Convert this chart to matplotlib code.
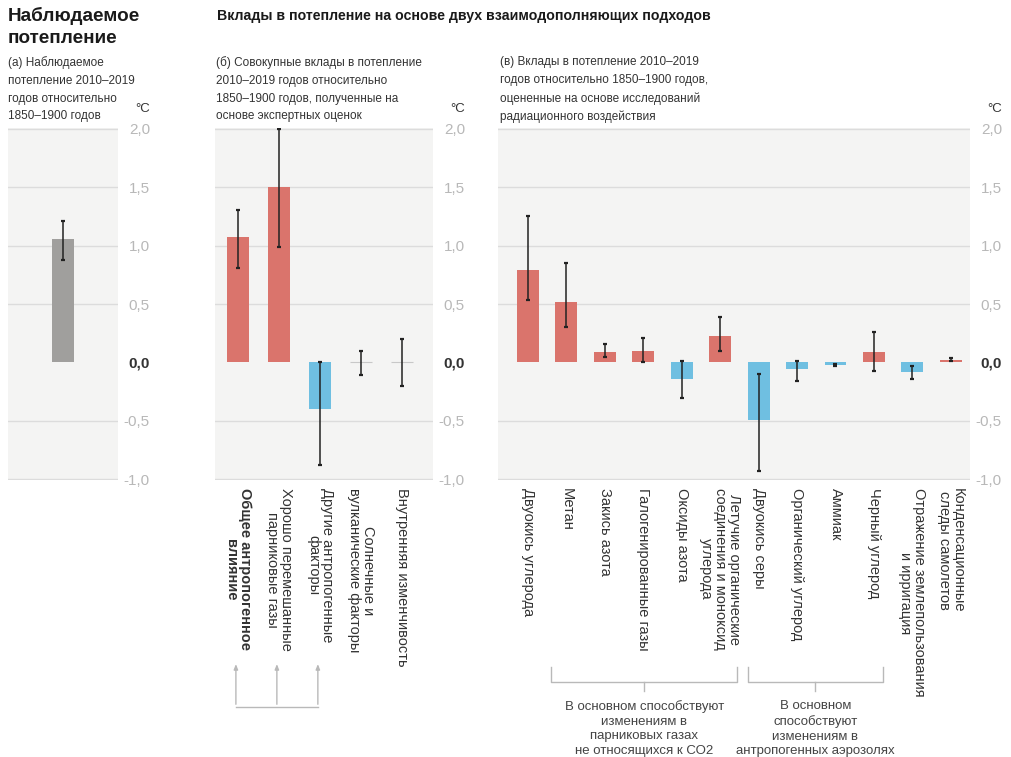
import numpy as np
import matplotlib
matplotlib.use("Agg")
import matplotlib.pyplot as plt
import matplotlib.transforms as mtransforms
from matplotlib.lines import Line2D

plt.rcParams['font.family'] = ['Liberation Sans', 'DejaVu Sans']

W, H = 1012, 757

# ---- данные ----
obs_value = [1.06]
obs_low = [0.88]
obs_high = [1.21]

b_labels = ["Общее антропогенное\nвлияние",
            "Хорошо перемешанные\nпарниковые газы",
            "Другие антропогенные\nфакторы",
            "Солнечные и\nвулканические факторы",
            "Внутренняя изменчивость"]
b_values = [1.07, 1.50, -0.40, 0.0, 0.0]
b_low = [0.81, 0.99, -0.88, -0.11, -0.20]
b_high = [1.30, 2.00, 0.00, 0.10, 0.20]

c_labels = ["Двуокись углерода",
            "Метан",
            "Закись азота",
            "Галогенированные газы",
            "Оксиды азота",
            "Летучие органические\nсоединения и моноксид\nуглерода",
            "Двуокись серы",
            "Органический углерод",
            "Аммиак",
            "Черный углерод",
            "Отражение землепользования\nи ирригация",
            "Конденсационные\nследы самолетов"]
c_values = [0.79, 0.52, 0.09, 0.10, -0.14, 0.23, -0.49, -0.06, -0.02, 0.09, -0.08, 0.02]
c_low = [0.53, 0.30, 0.05, 0.00, -0.30, 0.10, -0.93, -0.16, -0.03, -0.07, -0.14, 0.01]
c_high = [1.25, 0.85, 0.16, 0.21, 0.01, 0.39, -0.10, 0.01, -0.01, 0.26, -0.03, 0.035]

yticks = [-1.0, -0.5, 0.0, 0.5, 1.0, 1.5, 2.0]

RED = '#da746c'
BLUE = '#6fbfe1'
GRAY = '#a09f9d'
BG = '#f4f4f3'
GRID = '#dcdcdc'


def px_axes(x0, x1, y0=128, y1=480):
    return [x0 / W, 1 - y1 / H, (x1 - x0) / W, (y1 - y0) / H]


def bar_colors(vals):
    out = []
    for v in vals:
        if v > 0:
            out.append(RED)
        elif v < 0:
            out.append(BLUE)
        else:
            out.append('none')
    return out


def style_axes(ax, xlim):
    ax.set_facecolor(BG)
    ax.set_xlim(*xlim)
    ax.set_ylim(-1.005, 2.005)
    for s in ax.spines.values():
        s.set_visible(False)
    for y in yticks:
        if y != 0:
            ax.axhline(y, color=GRID, lw=1, zorder=0)
    ax.yaxis.tick_right()
    ax.set_yticks(yticks)
    ax.set_yticklabels([("%.1f" % y).replace('.', ',') for y in yticks])
    ax.tick_params(axis='y', length=0, pad=23, labelsize=11, labelcolor='#b8b8b8')
    for lab, y in zip(ax.get_yticklabels(), yticks):
        lab.set_horizontalalignment('right')
        if y == 0:
            lab.set_color('#333333')
            lab.set_fontweight('bold')
    ax.annotate('°C', xy=(1, 1), xycoords='axes fraction', xytext=(23, 9),
                textcoords='offset points', ha='right', va='bottom',
                fontsize=9.5, color='#333333')


def draw_bars(ax, vals, low, high, width, colors=None):
    x = np.arange(len(vals))
    if colors is None:
        colors = bar_colors(vals)
    ax.bar(x, vals, width=width, color=colors,
           edgecolor=['#c8c8c8' if v == 0 else 'none' for v in vals],
           linewidth=0.8, zorder=2)
    vals = np.array(vals)
    err = np.array([vals - np.array(low), np.array(high) - vals])
    ax.errorbar(x, vals, yerr=err, fmt='none', ecolor='#222222',
                elinewidth=1.1, capsize=1.3, capthick=1.6, zorder=3)
    return x


fig = plt.figure(figsize=(W / 100, H / 100), dpi=100)

# (а)
ax_a = fig.add_axes(px_axes(8, 118))
style_axes(ax_a, (-1.0, 1.0))
draw_bars(ax_a, obs_value, obs_low, obs_high, 0.4, colors=[GRAY])
ax_a.set_xticks([])

lab_kw = dict(rotation=-90, ha='center', va='top', fontsize=10.5,
              color='#333333', linespacing=1.0)

# (б)
ax_b = fig.add_axes(px_axes(215, 433))
style_axes(ax_b, (-0.56, 4.76))
xb = draw_bars(ax_b, b_values, b_low, b_high, 0.54)
ax_b.set_xticks(xb)
ax_b.set_xticklabels(b_labels, **lab_kw)
ax_b.get_xticklabels()[0].set_fontweight('bold')
ax_b.tick_params(axis='x', length=0, pad=6)

# (в)
ax_c = fig.add_axes(px_axes(498, 970))
style_axes(ax_c, (-0.78, 11.5))
xc = draw_bars(ax_c, c_values, c_low, c_high, 0.57)
ax_c.set_xticks(xc)
ax_c.set_xticklabels(c_labels, **lab_kw)
ax_c.tick_params(axis='x', length=0, pad=6)

# стрелки под панелью (б)
tb = mtransforms.blended_transform_factory(ax_b.transData, ax_b.transAxes)
lc = '#b9b9b9'
for xi in [0, 1, 2]:
    ax_b.annotate('', xy=(xi - 0.05, -0.515), xycoords=tb,
                  xytext=(xi - 0.05, -0.645), textcoords=tb,
                  arrowprops=dict(arrowstyle='-|>,head_length=0.3,head_width=0.12',
                                  color=lc, lw=1), annotation_clip=False)
ax_b.add_line(Line2D([-0.05, 1.95], [-0.645, -0.645], transform=tb,
                     color=lc, lw=1, clip_on=False))

# скобки под панелью (в)
tc = mtransforms.blended_transform_factory(ax_c.transData, ax_c.transAxes)
groups = [(0.6, 5.45, "В основном способствуют\nизменениям в\nпарниковых газах\nне относящихся к СО2"),
          (5.72, 9.23, "В основном\nспособствуют\nизменениям в\nантропогенных аэрозолях")]
for x0, x1, txt in groups:
    xm = (x0 + x1) / 2
    ax_c.add_line(Line2D([x0, x0, x1, x1], [-0.53, -0.574, -0.574, -0.53],
                         transform=tc, color=lc, lw=1, clip_on=False))
    ax_c.add_line(Line2D([xm, xm], [-0.574, -0.60], transform=tc,
                         color=lc, lw=1, clip_on=False))
    ax_c.text(xm, -0.625, txt, transform=tc, ha='center', va='top',
              fontsize=9.5, color='#444444', linespacing=1.3)

# заголовки
fig.text(8 / W, 1 - 7 / H, "Наблюдаемое\nпотепление", fontsize=13.6,
         fontweight='bold', ha='left', va='top', linespacing=1.35, color='#1a1a1a')
fig.text(217 / W, 1 - 9 / H,
         "Вклады в потепление на основе двух взаимодополняющих подходов",
         fontsize=10.2, fontweight='bold', ha='left', va='top', color='#1a1a1a')

sub_kw = dict(fontsize=8.5, ha='left', va='top', linespacing=1.65, color='#333333')
fig.text(8 / W, 1 - 56 / H,
         "(а) Наблюдаемое\nпотепление 2010–2019\nгодов относительно\n1850–1900 годов", **sub_kw)
fig.text(216 / W, 1 - 56 / H,
         "(б) Совокупные вклады в потепление\n2010–2019 годов относительно\n"
         "1850–1900 годов, полученные на\nоснове экспертных оценок", **sub_kw)
fig.text(500 / W, 1 - 56 / H,
         "(в) Вклады в потепление 2010–2019\nгодов относительно 1850–1900 годов,\n"
         "оцененные на основе исследований\nрадиационного воздействия", **sub_kw)

fig.savefig("out.png", dpi=100, facecolor='white')
